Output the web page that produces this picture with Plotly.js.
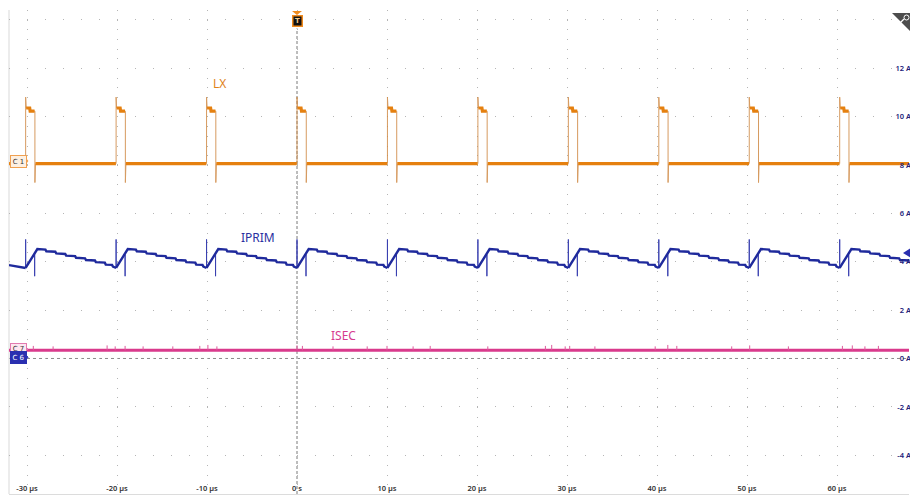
<!DOCTYPE html>
<html>
<head>
<meta charset="utf-8">
<script src="https://cdn.plot.ly/plotly-3.0.1.min.js"></script>
<style>
html,body{margin:0;padding:0;background:#fff;}
#chart{width:910px;height:495px;}
</style>
</head>
<body>
<div id="chart"></div>
<script>
// ---------- data (time in µs, values in A on the screen scale) ----------
const timeRange = [-32, 68];
const valueRange = [-5.6, 14.4];

// switching instants
const pulseStarts = [-30.15, -20.1, -10.05, 0, 10.05, 20.1, 30.15, 40.2, 50.25, 60.3];

// LX (C1) – one switching pulse, relative to its start
const lxBase = 8.05;
const lxEdgeT = [0, 0, 0.06, 0.45, 0.5, 1.03, 1.03, 1.09];
const lxEdgeV = [8.05, 10.8, 10.35, 10.35, 10.22, 10.22, 7.27, 8.05];
const lxTopT = [0.06, 0.45, 0.5, 0.99];
const lxTopV = [10.35, 10.35, 10.22, 10.22];
const lxBaseAfter = 1.09;
const lxBaseBefore = 0.02;

// IPRIM (C6) – one period, relative to the pulse start
const iprimLeadT = [-32, -31.0, -30.15];
const iprimLeadV = [3.86, 3.80, 3.74];
const iprimT = [0, 0.05, 1.3, 2.2, 2.3, 3.3, 3.4, 4.4, 4.5, 5.5, 5.6, 6.6, 6.7, 7.7, 7.8, 8.8, 8.9, 9.6, 9.7, 10.05];
const iprimV = [3.74, 3.78, 4.52, 4.50, 4.43, 4.41, 4.34, 4.32, 4.25, 4.23, 4.16, 4.14, 4.07, 4.05, 3.98, 3.96, 3.88, 3.87, 3.80, 3.74];
const iprimSpikeT = [0, 1.0];
const iprimSpikeBase = [3.74, 4.30];
const iprimSpikePeak = [4.92, 3.40];

// ISEC (C7)
const isecLevel = 0.34;
const isecSpikeT = [-29.3, -27.1, -21.1, -20.2, -19.1, -17.1, -13.8, -10.8, -9.9, -8.9, 0, 0.6, 4, 7.8, 10, 12.9, 14.8, 21.2, 27.6, 28.3, 29.8, 30.3, 33.1, 39.8, 41.2, 42.2, 48.3, 50.3, 54.6, 60.6, 61.7, 63.1, 64.6];
const isecSpikeH = [0.18, 0.16, 0.2, 0.16, 0.18, 0.16, 0.16, 0.18, 0.22, 0.16, 0.2, 0.18, 0.16, 0.16, 0.18, 0.16, 0.18, 0.16, 0.18, 0.22, 0.16, 0.18, 0.16, 0.16, 0.22, 0.18, 0.16, 0.2, 0.16, 0.18, 0.2, 0.16, 0.18];

// tick labels
const xTickVals = [-30, -20, -10, 0, 10, 20, 30, 40, 50, 60];
const xTickText = ['-30 µs', '-20 µs', '-10 µs', '0 s', '10 µs', '20 µs', '30 µs', '40 µs', '50 µs', '60 µs'];
const yTickVals = [-4, -2, 0, 2, 4, 6, 8, 10, 12, 14];
const yTickText = ['-4 A', '-2 A', '0 A', '2 A', '4 A', '6 A', '8 A', '10 A', '12 A', ''];

// ---------- build traces ----------
function repeat(starts, relT, relV) {
  const x = [], y = [];
  starts.forEach(s => {
    relT.forEach((t, i) => { x.push(s + t); y.push(relV[i]); });
    x.push(null); y.push(null);
  });
  return {x, y};
}

const lxThin = repeat(pulseStarts, lxEdgeT, lxEdgeV);
const lxTop = repeat(pulseStarts, lxTopT, lxTopV);
const lxBx = [], lxBy = [];
const bounds = [timeRange[0] - 1].concat(pulseStarts);
for (let i = 0; i < bounds.length; i++) {
  const from = i === 0 ? bounds[0] : bounds[i] + lxBaseAfter;
  const to = i + 1 < bounds.length ? bounds[i + 1] - lxBaseBefore : timeRange[1] + 1;
  lxBx.push(from, to, null); lxBy.push(lxBase, lxBase, null);
}
const lxThickX = lxTop.x.concat(lxBx), lxThickY = lxTop.y.concat(lxBy);

const ip = repeat(pulseStarts, iprimT, iprimV);
const ipX = iprimLeadT.concat([null], ip.x), ipY = iprimLeadV.concat([null], ip.y);
const ipSx = [], ipSy = [];
pulseStarts.forEach(s => {
  iprimSpikeT.forEach((t, i) => {
    ipSx.push(s + t, s + t, s + t, null);
    ipSy.push(iprimSpikeBase[i], iprimSpikePeak[i], iprimSpikeBase[i], null);
  });
});

const isSx = [], isSy = [];
isecSpikeT.forEach((t, i) => { isSx.push(t, t, null); isSy.push(isecLevel, isecLevel + isecSpikeH[i], null); });

const ORANGE = '#e5800f', BLUE = '#1f2a9c', MAGENTA = '#d93a8c';

const traces = [
  {x: lxThin.x, y: lxThin.y, mode: 'lines', line: {color: '#d08a45', width: 1}, opacity: 0.85, hoverinfo: 'skip'},
  {x: lxThickX, y: lxThickY, mode: 'lines', line: {color: ORANGE, width: 3.2}, hoverinfo: 'skip'},
  {x: ipSx, y: ipSy, mode: 'lines', line: {color: '#3a40b0', width: 1}, hoverinfo: 'skip'},
  {x: ipX, y: ipY, mode: 'lines', line: {color: BLUE, width: 2.4}, hoverinfo: 'skip'},
  {x: timeRange, y: [isecLevel, isecLevel], mode: 'lines', line: {color: MAGENTA, width: 3}, hoverinfo: 'skip'},
  {x: isSx, y: isSy, mode: 'lines', line: {color: '#dd5a9c', width: 1}, hoverinfo: 'skip'}
];

const shapes = [
  {type: 'line', xref: 'paper', yref: 'paper', x0: 0, x1: 0, y0: 0, y1: 1, line: {color: '#d9d9d9', width: 1}, layer: 'below'},
  {type: 'line', xref: 'paper', yref: 'y', x0: 0, x1: 1, y0: 0, y1: 0, line: {color: '#8a8a8a', width: 1, dash: '3px,3px'}, layer: 'below'},
  {type: 'line', xref: 'x', yref: 'paper', x0: 0, x1: 0, y0: 0, y1: 0.962, line: {color: '#7a7a7a', width: 1, dash: '3px,2px'}, layer: 'below'},
  {type: 'path', xref: 'x', yref: 'paper', xsizemode: 'pixel', ysizemode: 'pixel', xanchor: 0, yanchor: 1,
   path: 'M -5,-1 L 5,-1 L 0,-5 Z', fillcolor: '#f08a1c', line: {width: 0}},
  {type: 'path', xref: 'paper', yref: 'y', xsizemode: 'pixel', ysizemode: 'pixel', xanchor: 0, yanchor: 8.16,
   path: 'M 14,-6 L 19,0 L 14,6 Z', fillcolor: '#fdf0e2', line: {color: '#f0a050', width: 1}},
  {type: 'path', xref: 'paper', yref: 'y', xsizemode: 'pixel', ysizemode: 'pixel', xanchor: 0, yanchor: 0.39,
   path: 'M 14,-5 L 19,0 L 14,5 Z', fillcolor: '#fde6f0', line: {color: '#e27ab0', width: 1}},
  {type: 'path', xref: 'paper', yref: 'y', xsizemode: 'pixel', ysizemode: 'pixel', xanchor: 0, yanchor: 0.05,
   path: 'M 14,-6 L 19,0 L 14,6 Z', fillcolor: '#2a2fb0', line: {color: '#2a2fb0', width: 1}},
  {type: 'path', xref: 'paper', yref: 'y', xsizemode: 'pixel', ysizemode: 'pixel', xanchor: 1, yanchor: 4.36,
   path: 'M 2,-5 L 2,5 L -6,0 Z', fillcolor: '#2a2fb0', line: {width: 0}},
  {type: 'path', xref: 'paper', yref: 'paper', xsizemode: 'pixel', ysizemode: 'pixel', xanchor: 1, yanchor: 1,
   path: 'M -17,-3 L 2,-3 L 2,-22 Z', fillcolor: '#4d4d4d', line: {width: 0}},
  {type: 'circle', xref: 'paper', yref: 'paper', xsizemode: 'pixel', ysizemode: 'pixel', xanchor: 1, yanchor: 1,
   x0: -5, x1: 0, y0: -10, y1: -5, line: {color: '#ffffff', width: 1}},
  {type: 'line', xref: 'paper', yref: 'paper', xsizemode: 'pixel', ysizemode: 'pixel', xanchor: 1, yanchor: 1,
   x0: -5, x1: -9, y0: -9, y1: -13, line: {color: '#ffffff', width: 1.2}}
];

const annotations = [
  {text: 'LX', x: -8.56, y: 11.38, xref: 'x', yref: 'y', showarrow: false, font: {family: 'Noto Sans, sans-serif', size: 12, color: '#e0821a'}},
  {text: 'IPRIM', x: -4.33, y: 4.98, xref: 'x', yref: 'y', showarrow: false, font: {family: 'Noto Sans, sans-serif', size: 12, color: '#2a2f9f'}},
  {text: 'ISEC', x: 5.2, y: 0.97, xref: 'x', yref: 'y', showarrow: false, font: {family: 'Noto Sans, sans-serif', size: 12, color: '#d63a8f'}},
  {text: 'C 1', x: 0, xref: 'paper', y: 8.16, yref: 'y', xanchor: 'left', xshift: 1, showarrow: false,
   font: {family: 'DejaVu Sans, sans-serif', size: 7, color: '#333'}, bgcolor: '#fdf0e2', bordercolor: '#f0a050', borderwidth: 1, borderpad: 1, width: 13, height: 9},
  {text: 'C 7', x: 0, xref: 'paper', y: 0.39, yref: 'y', xanchor: 'left', xshift: 1, showarrow: false,
   font: {family: 'DejaVu Sans, sans-serif', size: 7, color: '#333'}, bgcolor: '#fde6f0', bordercolor: '#e27ab0', borderwidth: 1, borderpad: 1, width: 13, height: 8},
  {text: 'C 6', x: 0, xref: 'paper', y: 0.05, yref: 'y', xanchor: 'left', xshift: 1, showarrow: false,
   font: {family: 'DejaVu Sans, sans-serif', size: 7, color: '#ffffff'}, bgcolor: '#2a2fb0', bordercolor: '#2a2fb0', borderwidth: 1, borderpad: 1, width: 13, height: 9},
  {text: '<b>T</b>', x: 0, xref: 'x', y: 1, yref: 'paper', yanchor: 'top', yshift: -5, showarrow: false,
   font: {family: 'DejaVu Sans, sans-serif', size: 7, color: '#f5c98a'}, bgcolor: '#111111', bordercolor: '#f08a1c', borderwidth: 1.5, borderpad: 0, width: 8, height: 9}
];

const layout = {
  width: 910, height: 495,
  margin: {l: 9, r: 1, t: 10, b: 1, pad: 0},
  paper_bgcolor: '#ffffff', plot_bgcolor: '#ffffff',
  showlegend: false,
  xaxis: {
    range: timeRange, tickvals: xTickVals, ticktext: xTickText,
    ticklabelposition: 'inside', ticks: '',
    tickfont: {family: 'Noto Sans, sans-serif', size: 7.5, color: '#333333', weight: 600},
    showgrid: true, gridcolor: '#b5b5b5', gridwidth: 1, griddash: '1px,8.68px',
    zeroline: false, showline: true, linecolor: '#dcdcdc', linewidth: 1, fixedrange: true
  },
  yaxis: {
    range: valueRange, side: 'right', tickvals: yTickVals, ticktext: yTickText,
    ticklabelposition: 'inside', ticks: '', ticklabelstandoff: -5,
    tickfont: {family: 'Noto Sans, sans-serif', size: 7.5, color: '#22227a', weight: 600},
    showgrid: true, gridcolor: '#b5b5b5', gridwidth: 1, griddash: '1px,17px',
    zeroline: false, showline: false, fixedrange: true
  },
  shapes: shapes,
  annotations: annotations
};

Plotly.newPlot('chart', traces, layout, {displayModeBar: false, staticPlot: true});
</script>
</body>
</html>
